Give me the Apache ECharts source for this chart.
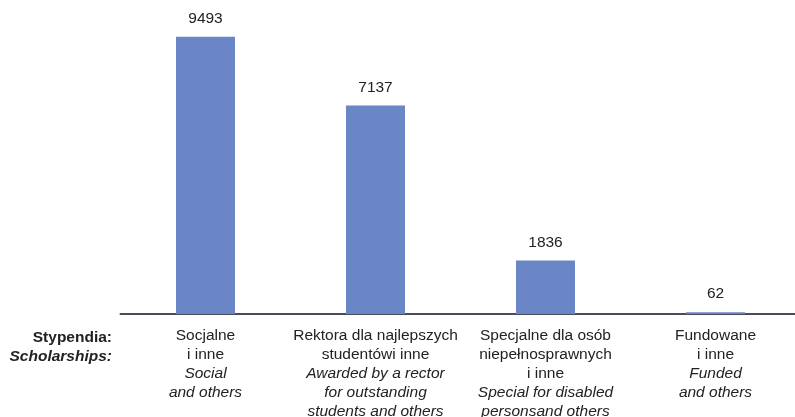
<!DOCTYPE html>
<html>
<head>
<meta charset="utf-8">
<script src="https://cdn.jsdelivr.net/npm/echarts@6/dist/echarts.min.js"></script>
<style>html,body{margin:0;padding:0;background:#fff}#c{width:795px;height:417px}</style>
</head>
<body>
<div id="c"></div>
<script>
var categoriesPL = [
  ["Socjalne", "i inne"],
  ["Rektora dla najlepszych", "studentówi inne"],
  ["Specjalne dla osób", "niepełnosprawnych", "i inne"],
  ["Fundowane", "i inne"]
];
var categoriesEN = [
  ["Social", "and others"],
  ["Awarded by a rector", "for outstanding", "students and others"],
  ["Special for disabled", "personsand others"],
  ["Funded", "and others"]
];
var values = [9493, 7137, 1836, 62];
var rowTitlePL = "Stypendia:";
var rowTitleEN = "Scholarships:";

var FONT = 'Liberation Sans, Arial, sans-serif';
var cats = categoriesPL.map(function (_, i) { return String(i); });
var chart = echarts.init(document.getElementById('c'));
chart.setOption({
  animation: false,
  backgroundColor: '#ffffff',
  grid: { left: 120.5, top: 22, width: 680, height: 292, outerBoundsMode: 'none', containLabel: false },
  xAxis: {
    type: 'category',
    data: cats,
    axisLine: { lineStyle: { color: '#4a4a58', width: 2 } },
    axisTick: { show: false },
    axisLabel: {
      interval: 0,
      margin: 12,
      formatter: function (v) {
        var i = +v;
        var out = [];
        categoriesPL[i].forEach(function (s) { out.push('{n|' + s + '}'); });
        categoriesEN[i].forEach(function (s) { out.push('{i|' + s + '}'); });
        return out.join('\n');
      },
      rich: {
        n: { fontFamily: FONT, fontSize: 15.5, color: '#222', lineHeight: 19 },
        i: { fontFamily: FONT, fontSize: 15.5, fontStyle: 'italic', color: '#222', lineHeight: 19 }
      }
    }
  },
  yAxis: {
    type: 'value', min: 0, max: 10000, show: false,
    splitLine: { show: false }
  },
  series: [{
    type: 'bar',
    data: values,
    barWidth: 59,
    itemStyle: { color: '#6a86c6' },
    label: {
      show: true, position: 'top', distance: 10,
      fontFamily: FONT, fontSize: 15.5, color: '#222'
    }
  }],
  graphic: [
    { type: 'text', right: 795 - 112, top: 329.5, style: { text: rowTitlePL, font: 'bold 15.5px "Liberation Sans", Arial, sans-serif', fill: '#222', textAlign: 'right' } },
    { type: 'text', right: 795 - 112, top: 348.5, style: { text: rowTitleEN, font: 'italic bold 15.5px "Liberation Sans", Arial, sans-serif', fill: '#222', textAlign: 'right' } }
  ]
});
</script>
</body>
</html>
